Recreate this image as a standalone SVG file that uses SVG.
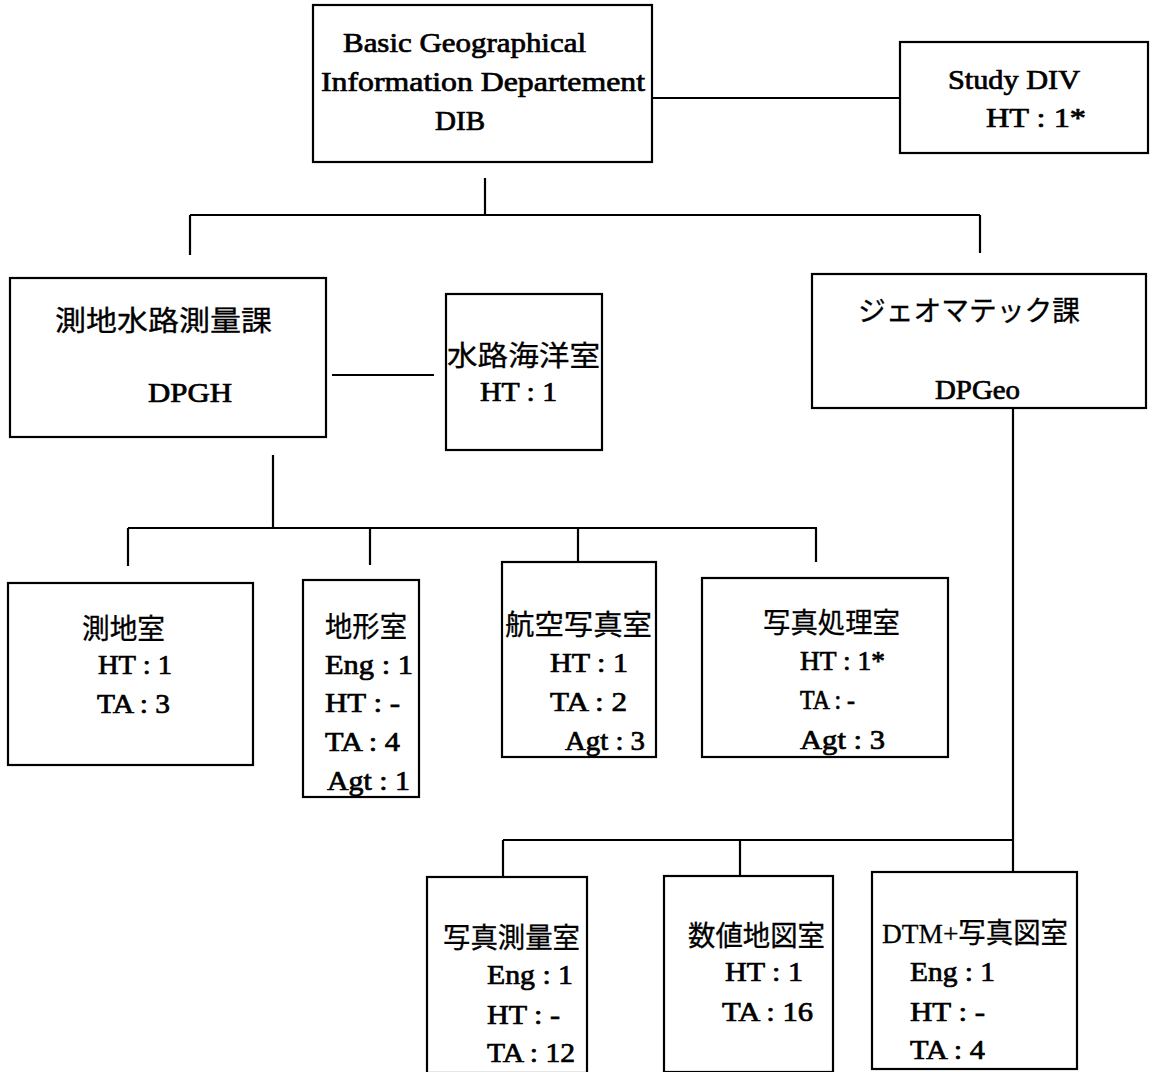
<svg xmlns="http://www.w3.org/2000/svg" width="1152" height="1072" viewBox="0 0 1152 1072">
<style>
.box{fill:none;stroke:#000;stroke-width:2.2}
.ln{fill:none;stroke:#000;stroke-width:2.2}
text{font-family:"Liberation Serif","Noto Sans CJK JP",serif;font-size:27px;fill:#000;stroke:#000;stroke-width:0.7;font-weight:normal}
.j{font-size:28px;stroke-width:0.3}
</style>
<rect width="1152" height="1072" fill="#fff"/>
<g id="connectors">
<path class="ln" d="M652 98H900"/>
<path class="ln" d="M485 178V215M190 215H980M190 215V255M980 215V253"/>
<path class="ln" d="M332 375H434" stroke-width="1.6"/>
<path class="ln" d="M273 455V528M128 528H817M128 528V566M370 528V565M578 528V562M816 528V562"/>
<path class="ln" d="M1013 408V872M503 840H1013M503 840V877M740 840V876"/>
</g>
<g id="dib">
<rect class="box" x="313" y="5" width="339" height="157"/>
<text x="343" y="52" textLength="243" lengthAdjust="spacingAndGlyphs">Basic Geographical</text>
<text x="321" y="91" textLength="324" lengthAdjust="spacingAndGlyphs">Information Departement</text>
<text x="435" y="130" textLength="50" lengthAdjust="spacingAndGlyphs">DIB</text>
</g>
<g id="study">
<rect class="box" x="900" y="42" width="248" height="111"/>
<text x="948" y="89" textLength="132" lengthAdjust="spacingAndGlyphs">Study DIV</text>
<text x="986" y="127" textLength="100" lengthAdjust="spacingAndGlyphs">HT : 1*</text>
</g>
<g id="dpgh">
<rect class="box" x="10" y="278" width="316" height="159"/>
<text class="j" x="55" y="331" textLength="217" lengthAdjust="spacingAndGlyphs">測地水路測量課</text>
<text x="148" y="402" textLength="84" lengthAdjust="spacingAndGlyphs">DPGH</text>
</g>
<g id="suiro">
<rect class="box" x="446" y="294" width="156" height="156"/>
<text class="j" x="447" y="366" textLength="153" lengthAdjust="spacingAndGlyphs">水路海洋室</text>
<text x="480" y="401" textLength="77" lengthAdjust="spacingAndGlyphs">HT : 1</text>
</g>
<g id="dpgeo">
<rect class="box" x="812" y="274" width="334" height="134"/>
<text class="j" x="858" y="321" textLength="222" lengthAdjust="spacingAndGlyphs">ジェオマテック課</text>
<text x="935" y="399" textLength="85" lengthAdjust="spacingAndGlyphs">DPGeo</text>
</g>
<g id="sokuchi">
<rect class="box" x="8" y="583" width="245" height="182"/>
<text class="j" x="82" y="639" textLength="83" lengthAdjust="spacingAndGlyphs">測地室</text>
<text x="98" y="674" textLength="74" lengthAdjust="spacingAndGlyphs">HT : 1</text>
<text x="97" y="713" textLength="73" lengthAdjust="spacingAndGlyphs">TA : 3</text>
</g>
<g id="chikei">
<rect class="box" x="303" y="580" width="116" height="217"/>
<text class="j" x="325" y="637" textLength="82" lengthAdjust="spacingAndGlyphs">地形室</text>
<text x="325" y="674" textLength="88" lengthAdjust="spacingAndGlyphs">Eng : 1</text>
<text x="325" y="712" textLength="75" lengthAdjust="spacingAndGlyphs">HT : -</text>
<text x="325" y="751" textLength="75" lengthAdjust="spacingAndGlyphs">TA : 4</text>
<text x="327" y="790" textLength="83" lengthAdjust="spacingAndGlyphs">Agt : 1</text>
</g>
<g id="koku">
<rect class="box" x="502" y="562" width="154" height="195"/>
<text class="j" x="505" y="635" textLength="147" lengthAdjust="spacingAndGlyphs">航空写真室</text>
<text x="550" y="672" textLength="78" lengthAdjust="spacingAndGlyphs">HT : 1</text>
<text x="550" y="711" textLength="77" lengthAdjust="spacingAndGlyphs">TA : 2</text>
<text x="565" y="750" textLength="80" lengthAdjust="spacingAndGlyphs">Agt : 3</text>
</g>
<g id="shashin">
<rect class="box" x="702" y="578" width="246" height="179"/>
<text class="j" x="763" y="633" textLength="137" lengthAdjust="spacingAndGlyphs">写真処理室</text>
<text x="800" y="670" textLength="85" lengthAdjust="spacingAndGlyphs">HT : 1*</text>
<text x="800" y="709" textLength="55" lengthAdjust="spacingAndGlyphs">TA : -</text>
<text x="800" y="749" textLength="85" lengthAdjust="spacingAndGlyphs">Agt : 3</text>
</g>
<g id="sokuryo">
<rect class="box" x="427" y="877" width="160" height="196"/>
<text class="j" x="443" y="948" textLength="137" lengthAdjust="spacingAndGlyphs">写真測量室</text>
<text x="487" y="984" textLength="86" lengthAdjust="spacingAndGlyphs">Eng : 1</text>
<text x="487" y="1024" textLength="73" lengthAdjust="spacingAndGlyphs">HT : -</text>
<text x="487" y="1062" textLength="88" lengthAdjust="spacingAndGlyphs">TA : 12</text>
</g>
<g id="suchi">
<rect class="box" x="664" y="876" width="169" height="196"/>
<text class="j" x="688" y="946" textLength="137" lengthAdjust="spacingAndGlyphs">数値地図室</text>
<text x="725" y="981" textLength="78" lengthAdjust="spacingAndGlyphs">HT : 1</text>
<text x="722" y="1021" textLength="91" lengthAdjust="spacingAndGlyphs">TA : 16</text>
</g>
<g id="dtm">
<rect class="box" x="872" y="872" width="205" height="197"/>
<text class="j" x="882" y="943" textLength="186" lengthAdjust="spacingAndGlyphs">DTM+写真図室</text>
<text x="910" y="981" textLength="85" lengthAdjust="spacingAndGlyphs">Eng : 1</text>
<text x="910" y="1021" textLength="75" lengthAdjust="spacingAndGlyphs">HT : -</text>
<text x="910" y="1059" textLength="75" lengthAdjust="spacingAndGlyphs">TA : 4</text>
</g>
</svg>
